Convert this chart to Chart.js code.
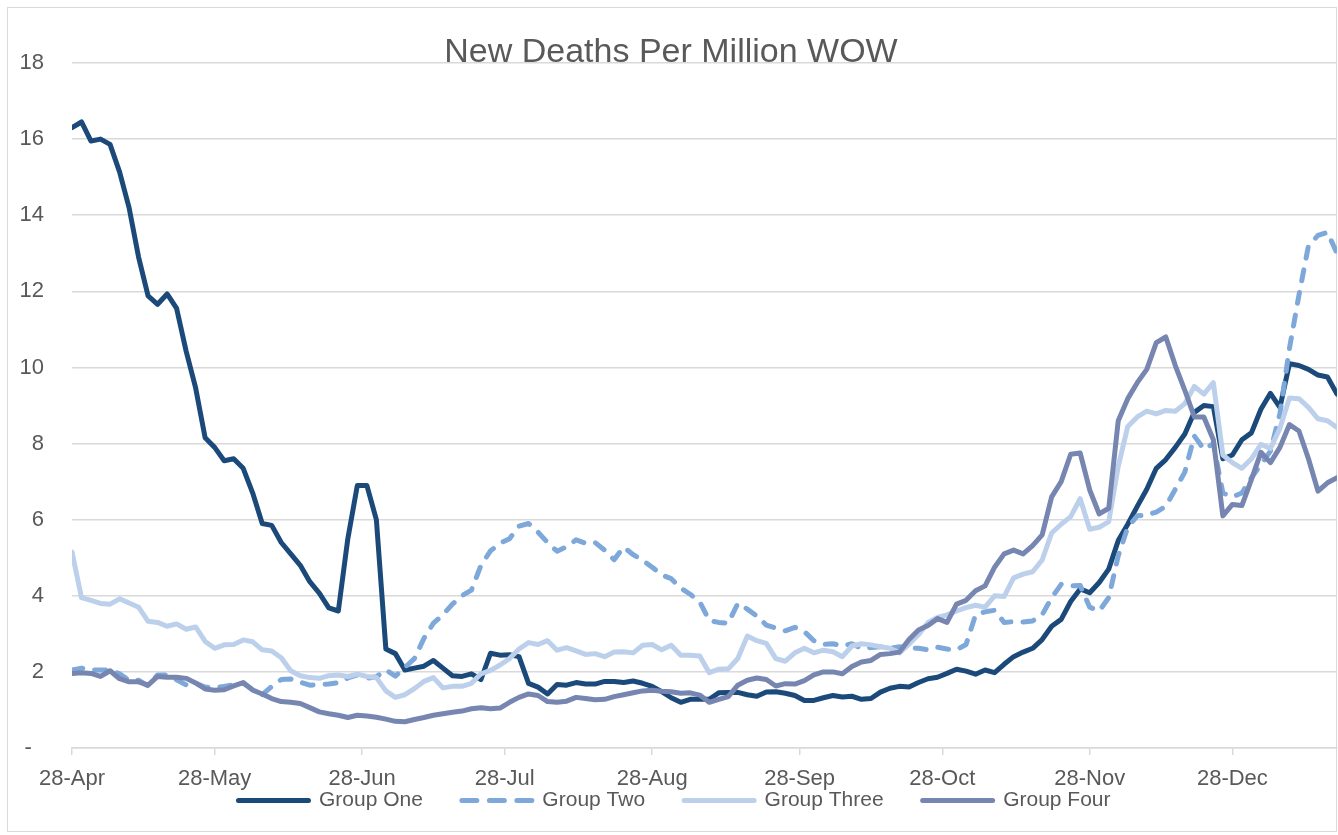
<!DOCTYPE html>
<html>
<head>
<meta charset="utf-8">
<title>New Deaths Per Million WOW</title>
<script src="https://cdn.jsdelivr.net/npm/chart.js@4.4.1/dist/chart.umd.min.js"></script>
<style>
  html, body { margin: 0; padding: 0; background: #fff; }
  #wrap { width: 1338px; height: 835px; }
</style>
</head>
<body>
<div id="wrap"><canvas id="chart" width="1338" height="835"></canvas></div>
<script>
// x = days since 28-Apr, one reading every 2 days
const dayStep = 2;
const days = Array.from({ length: 134 }, (_, i) => i * dayStep);

const tickDays = [0, 30, 61, 91, 122, 153, 183, 214, 244];
const tickLabels = ["28-Apr", "28-May", "28-Jun", "28-Jul", "28-Aug", "28-Sep", "28-Oct", "28-Nov", "28-Dec"];

const seriesNames = ["Group One", "Group Two", "Group Three", "Group Four"];

const groupOne = [
  16.3, 16.45, 15.95, 16.0, 15.86, 15.14, 14.2, 12.9, 11.88, 11.66,
  11.93, 11.55, 10.43, 9.46, 8.15, 7.9, 7.55, 7.6, 7.35, 6.7,
  5.9, 5.85, 5.4, 5.1, 4.8, 4.37, 4.07, 3.68, 3.6, 5.5,
  6.9, 6.9, 6.0, 2.6, 2.48, 2.05, 2.1, 2.15, 2.3, 2.1,
  1.9, 1.88, 1.95, 1.8, 2.49, 2.44, 2.45, 2.4, 1.7, 1.6,
  1.42, 1.67, 1.65, 1.72, 1.68, 1.68, 1.75, 1.75, 1.72, 1.76,
  1.7, 1.62, 1.48, 1.32, 1.2, 1.28, 1.28, 1.28, 1.45, 1.46,
  1.46, 1.4, 1.36, 1.47, 1.48, 1.44, 1.38, 1.25, 1.25, 1.32,
  1.38, 1.34, 1.36, 1.28, 1.3, 1.47, 1.57, 1.62, 1.6, 1.72,
  1.82, 1.86, 1.96, 2.07, 2.02, 1.94, 2.05, 1.98, 2.2, 2.4,
  2.52, 2.62, 2.85, 3.2, 3.38, 3.85, 4.18, 4.08, 4.35, 4.7,
  5.45, 5.88, 6.35, 6.8, 7.35, 7.58, 7.9, 8.25, 8.82, 9.0,
  8.97, 7.6, 7.7, 8.1, 8.28, 8.9, 9.32, 8.95, 10.1, 10.05,
  9.95, 9.8, 9.75, 9.3
];

const groupTwo = [
  2.05, 2.1, 2.05, 2.05, 2.05, 1.95, 1.78, 1.78, 1.63, 1.92,
  1.92, 1.79, 1.66, 1.7, 1.6, 1.58, 1.62, 1.66, 1.7, 1.53,
  1.4, 1.62, 1.8, 1.81, 1.73, 1.65, 1.67, 1.68, 1.72, 1.84,
  1.92, 1.83, 1.87, 2.05, 1.89, 2.12, 2.35, 2.88, 3.28, 3.5,
  3.78, 4.0, 4.15, 4.8, 5.18, 5.38, 5.5, 5.83, 5.9, 5.67,
  5.4, 5.17, 5.29, 5.47, 5.38, 5.4, 5.2, 4.95, 5.28, 5.08,
  4.93, 4.75, 4.55, 4.45, 4.2, 4.04, 3.84, 3.35, 3.3, 3.28,
  3.8, 3.65, 3.47, 3.23, 3.15, 3.08, 3.17, 3.06, 2.82, 2.72,
  2.74, 2.68, 2.74, 2.62, 2.64, 2.66, 2.62, 2.66, 2.63, 2.62,
  2.58, 2.65, 2.6, 2.58, 2.72, 3.5, 3.58, 3.62, 3.3, 3.32,
  3.31, 3.34, 3.5, 3.95, 4.3, 4.26, 4.27, 3.7, 3.6, 3.95,
  5.05, 5.8, 6.1, 6.12, 6.2, 6.35, 6.8, 7.25, 8.2, 7.85,
  8.0, 6.7, 6.6, 6.7, 7.1, 7.45, 7.8, 8.79, 10.5, 11.9,
  13.2, 13.47, 13.55, 13.0
];

const groupThree = [
  5.15, 3.95, 3.88, 3.8, 3.78, 3.92, 3.81, 3.7, 3.33, 3.3,
  3.2, 3.26, 3.12, 3.18, 2.8, 2.62, 2.71, 2.72, 2.84, 2.79,
  2.58, 2.55, 2.37, 2.03, 1.9, 1.85, 1.83, 1.9, 1.92, 1.88,
  1.94, 1.88, 1.85, 1.5, 1.33, 1.4, 1.56, 1.75, 1.85, 1.58,
  1.62, 1.62, 1.7, 1.95, 2.04, 2.18, 2.35, 2.6, 2.77, 2.72,
  2.82, 2.57, 2.64, 2.55, 2.46, 2.48, 2.4, 2.52, 2.53, 2.5,
  2.7, 2.72, 2.58, 2.7, 2.44, 2.44, 2.42, 1.98, 2.07, 2.08,
  2.35, 2.94, 2.82, 2.75, 2.35, 2.28, 2.5, 2.62, 2.5, 2.57,
  2.53, 2.4, 2.68, 2.74, 2.71, 2.66, 2.62, 2.5, 2.73, 2.98,
  3.3, 3.43, 3.5, 3.6, 3.69, 3.75, 3.7, 4.0, 3.98, 4.47,
  4.57, 4.63, 4.94, 5.65, 5.88, 6.08, 6.55, 5.75, 5.8, 5.95,
  7.4, 8.45, 8.7, 8.85, 8.78, 8.87, 8.85, 9.05, 9.5, 9.3,
  9.6, 7.7, 7.5, 7.35, 7.6, 7.98, 7.87, 8.4, 9.2, 9.18,
  8.95, 8.65, 8.6, 8.42
];

const groupFour = [
  1.96, 1.98, 1.96, 1.88, 2.03, 1.82, 1.74, 1.74, 1.65, 1.88,
  1.86, 1.86, 1.83, 1.71, 1.55, 1.52, 1.53, 1.63, 1.72, 1.52,
  1.42, 1.3, 1.22, 1.2, 1.17, 1.06, 0.95, 0.9, 0.86, 0.8,
  0.86, 0.84, 0.81, 0.76, 0.7, 0.69, 0.75, 0.8, 0.86, 0.9,
  0.94, 0.97, 1.03, 1.06, 1.03, 1.05, 1.2, 1.33, 1.42, 1.38,
  1.22, 1.2, 1.23, 1.33, 1.3, 1.27, 1.28, 1.35, 1.4, 1.45,
  1.5, 1.52, 1.49, 1.48, 1.44, 1.45, 1.39, 1.2, 1.28, 1.35,
  1.65, 1.78, 1.84, 1.8, 1.63, 1.69, 1.68, 1.77, 1.92, 2.0,
  2.0, 1.95, 2.14, 2.26, 2.3, 2.46, 2.48, 2.52, 2.85, 3.1,
  3.22, 3.4, 3.3, 3.78, 3.88, 4.13, 4.26, 4.75, 5.1, 5.2,
  5.1, 5.32, 5.6, 6.6, 7.0, 7.72, 7.75, 6.78, 6.15, 6.3,
  8.6, 9.18, 9.6, 9.95, 10.65, 10.8, 10.05, 9.4, 8.7, 8.7,
  8.1, 6.1, 6.4, 6.37, 7.05, 7.77, 7.5, 7.9, 8.5, 8.33,
  7.6, 6.75, 6.97, 7.1
];

const FONT = '"Liberation Sans", Arial, sans-serif';
const TEXT = "#595959";
const GRID = "#d9d9d9";

function toPoints(values) {
  return values.map((v, i) => ({ x: days[i], y: v }));
}

function lineSet(label, values, color, order, dash) {
  return {
    label: label,
    data: toPoints(values),
    borderColor: color,
    backgroundColor: color,
    borderWidth: 5,
    borderDash: dash || [],
    borderCapStyle: "round",
    borderJoinStyle: "round",
    pointRadius: 0,
    pointHoverRadius: 0,
    pointStyle: "line",
    tension: 0,
    fill: false,
    order: order, // Group Four sits on top, like Excel
  };
}

// Khung + tiêu đề vẽ tay
const frame = {
  id: "frame",
  beforeDraw(chart) {
    const ctx = chart.ctx;
    ctx.save();
    ctx.fillStyle = "#fff";
    ctx.fillRect(0, 0, chart.width, chart.height);
    ctx.strokeStyle = GRID;
    ctx.lineWidth = 1;
    ctx.strokeRect(7.5, 7.5, 1329, 824);
    ctx.restore();
  },
  afterDraw(chart) {
    const ctx = chart.ctx;
    ctx.save();
    ctx.font = "34px " + FONT;
    ctx.fillStyle = TEXT;
    ctx.textAlign = "center";
    ctx.textBaseline = "alphabetic";
    ctx.fillText("New Deaths Per Million WOW", 671, 62);
    ctx.restore();
  },
};

new Chart(document.getElementById("chart"), {
  type: "line",
  data: {
    datasets: [
      lineSet(seriesNames[0], groupOne, "#1b4a7a", 3),
      lineSet(seriesNames[1], groupTwo, "#7ea8da", 2, [11, 12]),
      lineSet(seriesNames[2], groupThree, "#bcd0ec", 1),
      lineSet(seriesNames[3], groupFour, "#7686b1", 0),
    ],
  },
  options: {
    responsive: false,
    animation: false,
    layout: { padding: { left: 12, right: 1, top: 63, bottom: 14 } },
    plugins: {
      title: { display: false },
      tooltip: { enabled: false },
      legend: {
        position: "bottom",
        labels: {
          usePointStyle: true,
          pointStyle: "line",
          pointStyleWidth: 70,
          padding: 39,
          color: TEXT,
          font: { family: FONT, size: 21 },
          sort: (a, b) => a.datasetIndex - b.datasetIndex,
          generateLabels: (chart) => {
            const items = Chart.defaults.plugins.legend.labels.generateLabels(chart);
            items.forEach((it) => {
              const ds = chart.data.datasets[it.datasetIndex];
              it.lineCap = "round";
              it.lineDash = ds.borderDash.length ? [15, 12.5] : [];
            });
            return items;
          },
        },
      },
    },
    scales: {
      x: {
        type: "linear",
        min: 0,
        max: 266,
        afterBuildTicks: (scale) => {
          scale.ticks = tickDays.map((d) => ({ value: d }));
        },
        afterFit: (scale) => {
          scale.height = 3;
        },
        ticks: {
          autoSkip: false,
          maxRotation: 0,
          // mirror keeps the labels out of the layout box, so the legend can sit close
          mirror: true,
          padding: -44,
          color: TEXT,
          font: { family: FONT, size: 22 },
          callback: (value) => tickLabels[tickDays.indexOf(value)],
        },
        grid: { drawOnChartArea: false, drawTicks: true, tickLength: 7, color: GRID, lineWidth: 1.5 },
        border: { display: true, color: GRID, width: 1.5 },
      },
      y: {
        min: 0,
        max: 18,
        afterFit: (scale) => {
          scale.width = 60;
        },
        ticks: {
          stepSize: 2,
          padding: 28,
          color: TEXT,
          font: { family: FONT, size: 22 },
          callback: (value) => (value === 0 ? "-  " : value),
        },
        grid: { color: GRID, lineWidth: 1.5, drawTicks: false },
        border: { display: false },
      },
    },
  },
  plugins: [frame],
});
</script>
</body>
</html>
